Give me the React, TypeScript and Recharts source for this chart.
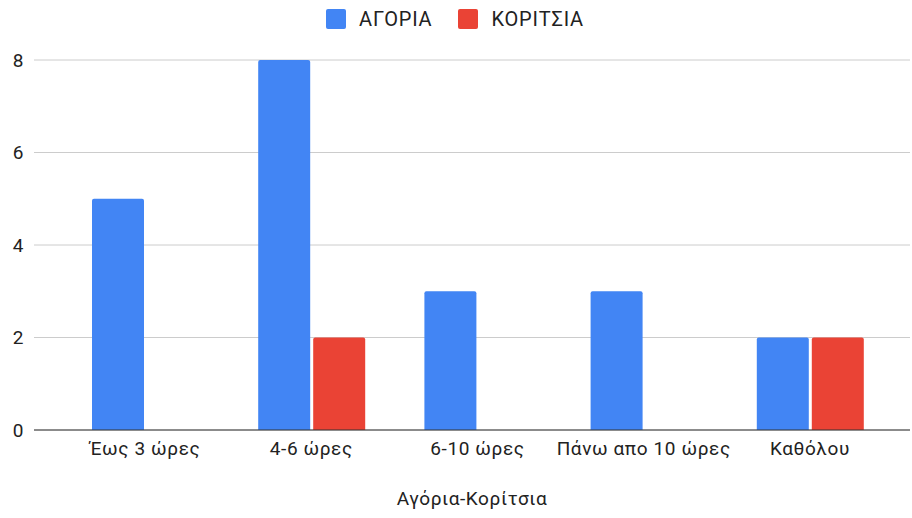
import { BarChart, Bar, XAxis, YAxis, CartesianGrid, Legend } from 'recharts';

const categories = ['Έως 3 ώρες', '4-6 ώρες', '6-10 ώρες', 'Πάνω απο 10 ώρες', 'Καθόλου'];
const boys = [5, 8, 3, 3, 2];
const girls = [0, 2, 0, 0, 2];
const yTicks = [0, 2, 4, 6, 8];

const series = [
    { key: 'boys', name: 'ΑΓΟΡΙΑ', color: '#4285F4' },
    { key: 'girls', name: 'ΚΟΡΙΤΣΙΑ', color: '#EA4335' },
];

const data = categories.map((name, i) => ({ name, boys: boys[i], girls: girls[i] }));

const FONT = 'Roboto, "Noto Sans", Arial, sans-serif';
const textStyle = { fill: '#222', fontSize: 19, fontFamily: FONT, letterSpacing: 0.6 };

function LegendContent() {
    return (
        <div style={{ display: 'flex', justifyContent: 'center', alignItems: 'center', height: 20, fontFamily: FONT, fontSize: 20, letterSpacing: 0.8, color: '#222' }}>
            {series.map((s) => (
                <div key={s.key} style={{ display: 'flex', alignItems: 'center', margin: '0 13px' }}>
                    <span style={{ display: 'inline-block', width: 20, height: 20, borderRadius: 2, background: s.color, marginRight: 13 }} />
                    <span>{s.name}</span>
                </div>
            ))}
        </div>
    );
}

export default function App() {
    return (
        <div style={{ position: 'absolute', left: 0, top: 0, background: '#fff' }}>
            <BarChart
                width={912}
                height={518}
                data={data}
                margin={{ top: 9, right: 2, bottom: 0, left: 0 }}
                barCategoryGap={30}
                barGap={3}
            >
                <CartesianGrid vertical={false} stroke="#cccccc" />
                <Legend verticalAlign="top" align="center" height={51} content={<LegendContent />} />
                <XAxis
                    dataKey="name"
                    height={88}
                    padding={{ left: 28, right: 17 }}
                    axisLine={{ stroke: '#333' }}
                    tickLine={false}
                    tickSize={0}
                    tickMargin={12}
                    tick={textStyle}
                    label={{ value: 'Αγόρια-Κορίτσια', position: 'insideBottom', offset: 13, ...textStyle }}
                />
                <YAxis
                    width={34}
                    domain={[0, 8]}
                    ticks={yTicks}
                    axisLine={false}
                    tickLine={false}
                    tickSize={0}
                    tickMargin={10}
                    tick={textStyle}
                />
                {series.map((s) => (
                    <Bar key={s.key} dataKey={s.key} name={s.name} fill={s.color} radius={[2, 2, 0, 0]} isAnimationActive={false} />
                ))}
            </BarChart>
        </div>
    );
}
